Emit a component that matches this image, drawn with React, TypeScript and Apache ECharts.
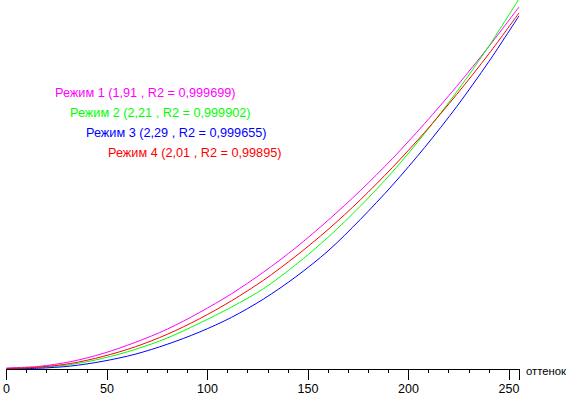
import React, { useEffect, useRef } from "react";
import * as echarts from "echarts";

const levels = [0, 16, 32, 48, 64, 80, 96, 112, 128, 144, 160, 176, 192, 208, 224, 240, 255];
const mode1 = [0.003, 0.007, 0.02, 0.042, 0.072, 0.108, 0.153, 0.204, 0.263, 0.329, 0.403, 0.483, 0.57, 0.665, 0.766, 0.874, 0.981];
const mode2 = [0.001, 0.004, 0.012, 0.029, 0.053, 0.084, 0.124, 0.168, 0.218, 0.283, 0.357, 0.441, 0.534, 0.638, 0.751, 0.875, 1.003];
const mode3 = [0.0, 0.002, 0.008, 0.021, 0.04, 0.067, 0.1, 0.14, 0.19, 0.25, 0.32, 0.405, 0.498, 0.6, 0.711, 0.833, 0.957];
const mode4 = [0.001, 0.005, 0.015, 0.034, 0.06, 0.094, 0.136, 0.185, 0.241, 0.306, 0.378, 0.458, 0.546, 0.641, 0.744, 0.854, 0.965];

const seriesNames = ["Режим 1", "Режим 2", "Режим 3", "Режим 4"];
const seriesLabels = [
  "Режим 1 (1,91 , R2 = 0,999699)",
  "Режим 2 (2,21 , R2 = 0,999902)",
  "Режим 3 (2,29 , R2 = 0,999655)",
  "Режим 4 (2,01 , R2 = 0,99895)",
];
const seriesColors = ["#ff00ff", "#00ff00", "#0000ff", "#ff0000"];
const xTicks = [0, 50, 100, 150, 200, 250];
const xAxisName = "оттенок";

const FONT = "'Liberation Sans', Arial, sans-serif";

export default function App() {
  const ref = useRef<HTMLDivElement>(null);
  useEffect(() => {
    if (!ref.current) return;
    const chart = echarts.init(ref.current, null, { renderer: "svg" });
    const all = [mode1, mode2, mode3, mode4];
    const labelPos = [
      [55, 86],
      [70, 106],
      [86, 126],
      [108, 146],
    ];
    chart.setOption({
      animation: false,
      backgroundColor: "#ffffff",
      grid: { left: 4, right: 51, top: 0, bottom: 26, containLabel: false },
      xAxis: {
        type: "value",
        min: 0,
        max: 255,
        interval: 50,
        axisLine: { show: true, lineStyle: { color: "#000", width: 1 } },
        axisTick: { show: true, length: 11, lineStyle: { color: "#000" } },
        minorTick: { show: true, splitNumber: 5, length: 4, lineStyle: { color: "#000" } },
        splitLine: { show: false },
        axisLabel: {
          color: "#000",
          fontSize: 12.5,
          fontFamily: FONT,
          margin: 13,
          formatter: (v: number) => (xTicks.includes(v) ? String(v) : ""),
        },
      },
      yAxis: {
        type: "value",
        min: 0,
        max: 1,
        show: false,
        splitLine: { show: false },
      },
      series: all.map((vals, i) => ({
        name: seriesNames[i],
        type: "line",
        data: levels.map((x, k) => [x, vals[k]]),
        showSymbol: false,
        smooth: 0.3,
        clip: true,
        lineStyle: { color: seriesColors[i], width: 1 },
        itemStyle: { color: seriesColors[i] },
      })),
      graphic: [
        ...seriesLabels.map((t, i) => ({
          type: "text",
          x: labelPos[i][0],
          y: labelPos[i][1],
          style: {
            text: t,
            fill: seriesColors[i],
            fontSize: 12.7,
            fontFamily: FONT,
          },
        })),
        {
          type: "text",
          x: 526,
          y: 371,
          style: {
            text: xAxisName,
            fill: "#000",
            fontSize: 11.3,
            fontFamily: FONT,
            verticalAlign: "middle",
          },
        },
      ],
    });
    return () => chart.dispose();
  }, []);
  return (
    <div
      ref={ref}
      style={{ position: "fixed", left: 0, top: 0, width: 570, height: 395 }}
    />
  );
}
